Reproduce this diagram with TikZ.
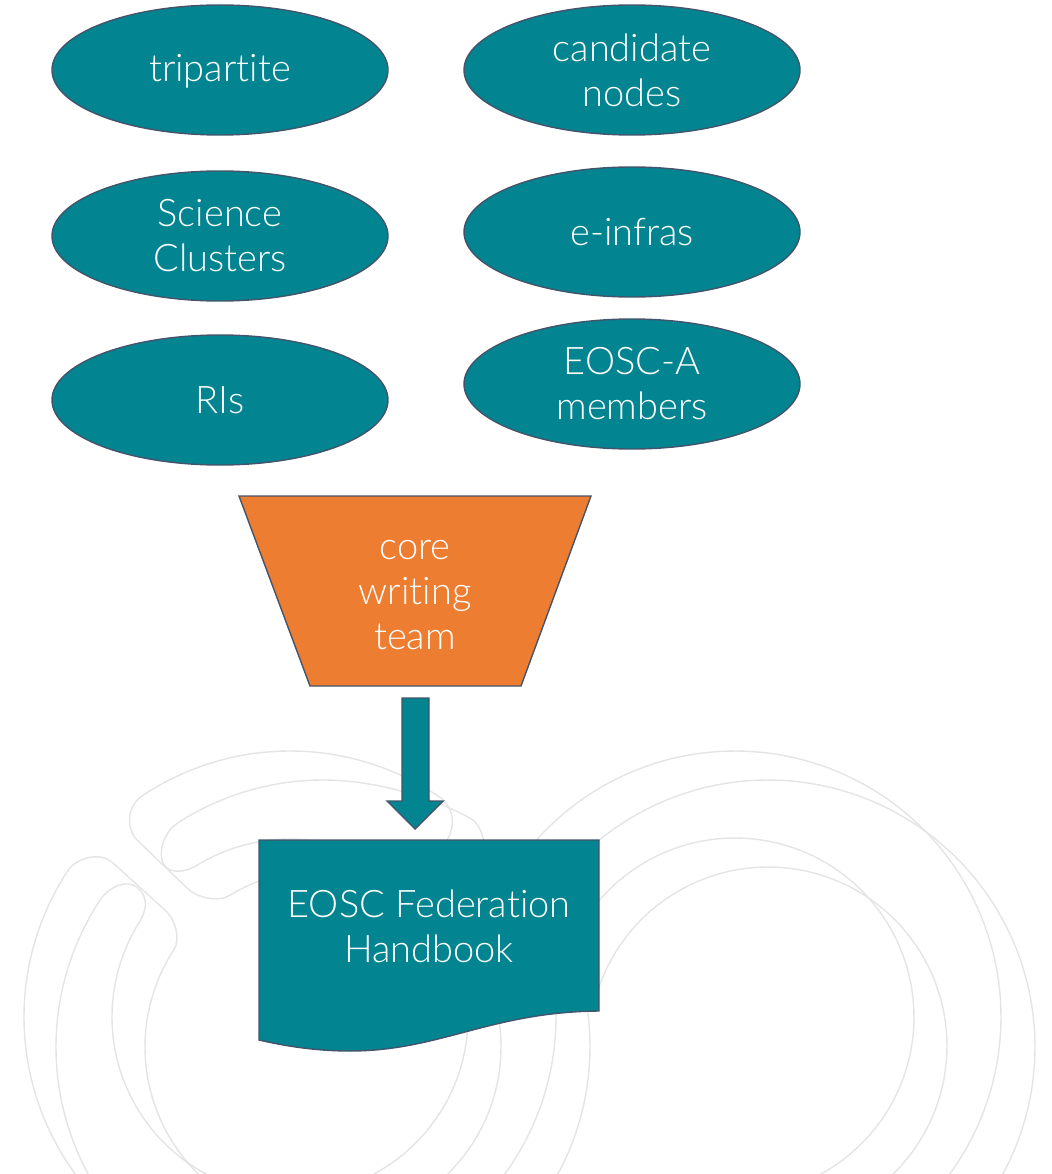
\documentclass[tikz,border=0pt]{standalone}
\usepackage{fontspec}
\setmainfont{Lato Light}[Ligatures=NoCommon]
\usetikzlibrary{shapes.geometric}
\definecolor{tealfill}{HTML}{028491}
\definecolor{edge}{HTML}{44546A}
\definecolor{orangefill}{HTML}{ED7D31}
\definecolor{logo}{HTML}{E4E4E4}
\tikzset{
  x=1pt,y=-1pt,
  oval/.style={ellipse,draw=edge,line width=1.4pt,fill=tealfill,minimum width=336pt,minimum height=130pt,inner sep=0pt,text=white,font=\fontsize{38}{45}\selectfont,align=center},
  solid shape/.style={draw=edge,line width=1.4pt,line join=miter},
  label text/.style={text=white,font=\fontsize{38}{45}\selectfont,align=center,inner sep=0pt},
  logoline/.style={draw=logo,line width=1.4pt,line join=round},
  arcsamples/.style={samples=90}
}
% arc of a circle, angles clockwise on the page: centre x, centre y, radius, from, to
\newcommand{\logoarc}[5]{plot[arcsamples,domain=#4:#5,variable=\t] ({#1+#3*cos(\t)},{#2+#3*sin(\t)})}
\newcommand{\logoarcto}[5]{-- plot[arcsamples,domain=#4:#5,variable=\t] ({#1+#3*cos(\t)},{#2+#3*sin(\t)})}
\begin{document}
\begin{tikzpicture}
\useasboundingbox (0,0) rectangle (1051,1174);
% background logo, left rings
\draw[logoline] \logoarc{290}{1017}{266}{143.8}{213.4}
  .. controls (76.3,858) and (100,851) .. (113,863) -- (165,910)
  .. controls (175,919) and (181.2,938.5) .. (173.6,950.3)
  \logoarcto{323}{1047}{178}{212.9}{134.5};
\draw[logoline] \logoarc{323}{1047}{267}{151.6}{213.4}
  .. controls (108.4,887.5) and (127,878) .. (138,888)
  .. controls (149,898) and (146.4,910.8) .. (139,922.7)
  \logoarcto{290}{1017}{178}{212}{118.1};
\draw[logoline] \logoarc{323}{1047}{178}{405.5}{238.5}
  .. controls (218,902.5) and (197,898) .. (187,888) -- (137,840)
  .. controls (127,830) and (125.5,807) .. (142.1,795.9)
  \logoarcto{290}{1017}{266}{236.2}{304.4}
  .. controls (450.3,804.4) and (458,822) .. (447,840) -- (425,875);
\draw[logoline] \logoarc{290}{1017}{178}{421.9}{238.2}
  .. controls (184.4,873) and (168,874) .. (163,863)
  .. controls (158,852) and (164.2,831.8) .. (176.8,823.6)
  \logoarcto{323}{1047}{267}{236.8}{280}
  .. controls (400,789) and (445,803) .. (473,820)
  .. controls (480,826) and (486,838) .. (483,855) -- (470,880);
\draw[logoline] \logoarc{290}{1017}{266}{-15}{37};
\draw[logoline] \logoarc{323}{1047}{267}{-15}{29};
% background logo, right rings
\draw[logoline] \logoarc{735}{1017}{266}{215}{397};
\draw[logoline] \logoarc{768}{1047}{267}{228}{389};
\draw[logoline] \logoarc{735}{1017}{179}{218}{422};
\draw[logoline] \logoarc{768}{1046}{179}{197}{406};
% ellipses
\node[oval,text height=32pt,text depth=8pt] (tripartite) at (220,70) {tripartite};
\node[oval] (science) at (220,236) {Science\\Clusters};
\node[oval] (ris) at (220,400) {RIs};
\node[oval] (candidate) at (632,70) {candidate\\nodes};
\node[oval] (einfras) at (632,232) {e-infras};
\node[oval] (eosca) at (632,384) {EOSC-A\\members};
% funnel
\draw[solid shape,fill=orangefill] (239,496) -- (591,496) -- (521,686) -- (310,686) -- cycle;
\node[label text] (core) at (415,595) {core\\writing\\team};
% arrow
\draw[solid shape,fill=tealfill] (402,698) -- (429,698) -- (429,801) -- (443,801) -- (415,829) -- (387,801) -- (402,801) -- cycle;
% document
\draw[solid shape,fill=tealfill] (259,840) -- (599,840) -- (599,1011) .. controls (490,1012) and (440,1051) .. (350,1051) .. controls (315,1051) and (285,1046) .. (259,1040) -- cycle;
\node[label text] (handbook) at (429,926) {EOSC Federation\\Handbook};
\end{tikzpicture}
\end{document}
